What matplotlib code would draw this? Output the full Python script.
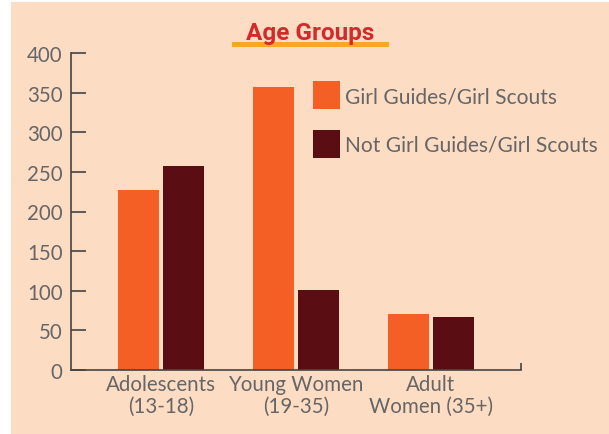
import matplotlib
matplotlib.use("Agg")
import matplotlib.pyplot as plt
from matplotlib.patches import Rectangle
import numpy as np

categories = ["Adolescents\n(13-18)", "Young Women\n(19-35)", "Adult\nWomen (35+)"]
guides = [227, 357, 71]
not_guides = [257, 101, 67]
series_names = ["Girl Guides/Girl Scouts", "Not Girl Guides/Girl Scouts"]
yticks = [0, 50, 100, 150, 200, 250, 300, 350, 400]

bg = "#FDDCC4"
orange = "#F45F25"
dark = "#5A0D12"
grey = "#666666"

plt.rcParams['font.family'] = ['Lato', 'DejaVu Sans']

fig = plt.figure(figsize=(6.09, 4.35), dpi=100)
fig.patch.set_facecolor("white")
fig.patches.append(Rectangle((11 / 609, 0), 1, 1 - 3 / 435, transform=fig.transFigure,
                             facecolor=bg, edgecolor="none", zorder=-10))

ax = fig.add_axes([71 / 609, 1 - 370.7 / 435, 450 / 609, (370.7 - 54.3) / 435])
ax.set_facecolor("none")

x = np.arange(len(categories))
w = 41 / 135
off = 22.5 / 135
ax.bar(x - off, guides, w, color=orange, zorder=2)
ax.bar(x + off, not_guides, w, color=dark, zorder=2)

ax.set_xlim(-90 / 135, 360 / 135)
ax.set_ylim(0, 400)
ax.set_yticks(yticks)
ax.tick_params(axis="y", direction="in", length=11, width=1.2, color="#444444",
               labelcolor=grey, labelsize=14.8, pad=6)
ax.set_xticks(x)
ax.set_xticklabels(categories, fontsize=14.8, color=grey, linespacing=1.15)
ax.tick_params(axis="x", length=0, pad=3)
ax.set_xticks([360 / 135], minor=True)
ax.tick_params(axis="x", which="minor", direction="in", length=5, width=1.2, color="#444444")

for s in ["top", "right"]:
    ax.spines[s].set_visible(False)
for s in ["left", "bottom"]:
    ax.spines[s].set_color("#444444")
    ax.spines[s].set_linewidth(1.2)

# title with underline
fig.patches.append(Rectangle((232 / 609, 1 - 48 / 435), 157 / 609, 5 / 435,
                             transform=fig.transFigure, facecolor="#F9A825", edgecolor="none"))
fig.text(310 / 609, 1 - 40 / 435, "Age Groups", ha="center", va="baseline",
         fontsize=17.5, fontweight="bold", color="#D42A2A", family=["Roboto", "DejaVu Sans"])

# legend
for i, (name, col) in enumerate(zip(series_names, [orange, dark])):
    top = 82 + i * 49
    fig.patches.append(Rectangle((313 / 609, 1 - (top + 28) / 435), 27 / 609, 28 / 435,
                                 transform=fig.transFigure, facecolor=col, edgecolor="none"))
    fig.text(345 / 609, 1 - (top + 15) / 435, name, ha="left", va="center",
             fontsize=15.1, color=grey)

fig.savefig("out.png", dpi=100)
